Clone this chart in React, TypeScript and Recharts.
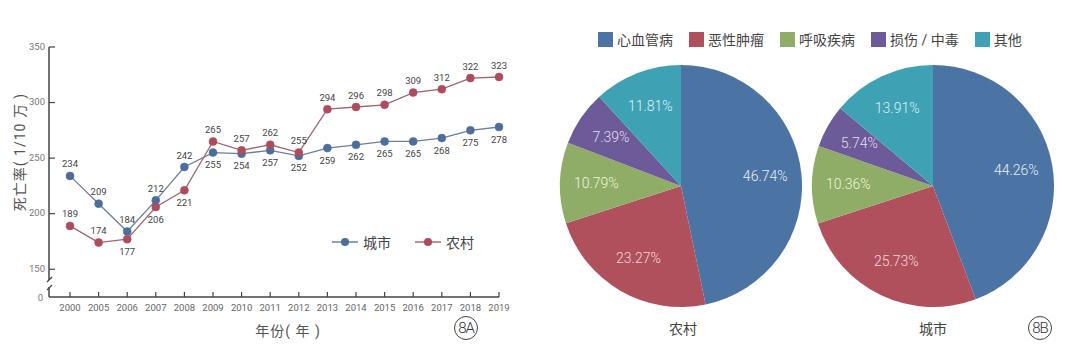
import React from 'react';
import { LineChart, Line, XAxis, YAxis, Legend, PieChart, Pie, Cell } from 'recharts';

const years = ['2000', '2005', '2006', '2007', '2008', '2009', '2010', '2011', '2012', '2013', '2014', '2015', '2016', '2017', '2018', '2019'];
const urbanRate = [234, 209, 184, 212, 242, 255, 254, 257, 252, 259, 262, 265, 265, 268, 275, 278];
const ruralRate = [189, 174, 177, 206, 221, 265, 257, 262, 255, 294, 296, 298, 309, 312, 322, 323];
const yTicks = [125, 150, 200, 250, 300, 350];

const causes = ['心血管病', '恶性肿瘤', '呼吸疾病', '损伤 / 中毒', '其他'];
const ruralShare = [46.74, 23.27, 10.79, 7.39, 11.81];
const urbanShare = [44.26, 25.73, 10.36, 5.74, 13.91];

const COLORS = ['#4b74a4', '#b1505d', '#8fad66', '#6c5a99', '#3fa2b4'];
const LABEL_COLORS = ['#e6eef9', '#f8d8dc', '#eef6dc', '#e4dcf6', '#dcf3f7'];
const BLUE = '#4d6e9d';
const RED = '#ae4b5d';

const FONT = "Roboto, 'Noto Sans CJK SC', sans-serif";

const lineData = years.map((y, i) => ({ year: y, urban: urbanRate[i], rural: ruralRate[i] }));
const ruralPie = causes.map((c, i) => ({ name: c, value: ruralShare[i] }));
const urbanPie = causes.map((c, i) => ({ name: c, value: urbanShare[i] }));

const XTick = (props: any) => {
  const { x, y, payload } = props;
  return (
    <g>
      <line x1={x} x2={x} y1={y} y2={y - 5} stroke="#444" strokeWidth={1.2} />
      <text x={x} y={y + 14} textAnchor="middle" fontSize={9.5} fill="#666" fontFamily={FONT}>
        {payload.value}
      </text>
    </g>
  );
};

const YTick = (props: any) => {
  const { x, y, payload } = props;
  if (payload.value === 125) {
    // axis break
    return (
      <g>
        <rect x={x - 3} y={y - 17} width={6} height={7} fill="#fff" />
        <line x1={x - 2} y1={y - 15} x2={x + 3} y2={y - 20} stroke="#444" strokeWidth={1.3} />
        <line x1={x - 2} y1={y - 7} x2={x + 3} y2={y - 12} stroke="#444" strokeWidth={1.3} />
        <text x={x - 6} y={y + 1} textAnchor="end" dominantBaseline="middle" fontSize={9.5} fill="#777" fontFamily={FONT}>
          0
        </text>
      </g>
    );
  }
  return (
    <g>
      <line x1={x} x2={x + 6} y1={y} y2={y} stroke="#444" strokeWidth={1.2} />
      <text x={x - 4} y={y} textAnchor="end" dominantBaseline="middle" fontSize={9.5} fill="#777" fontFamily={FONT}>
        {payload.value}
      </text>
    </g>
  );
};

const makeLabel = (series: 'urban' | 'rural') => (props: any) => {
  const { x, y, value, index } = props;
  let above: boolean;
  if (series === 'urban') above = index <= 4;
  else above = index <= 1 || index >= 5;
  return (
    <text
      x={x}
      y={above ? y - 11 : y + 13}
      textAnchor="middle"
      dominantBaseline="middle"
      fontSize={9.5}
      fill="#444"
      fontFamily={FONT}
    >
      {value}
    </text>
  );
};

const LineLegend = () => (
  <div style={{ display: 'flex', alignItems: 'center', fontFamily: FONT, fontSize: 14, color: '#444' }}>
    {[
      { name: '城市', color: BLUE },
      { name: '农村', color: RED },
    ].map((it) => (
      <div key={it.name} style={{ display: 'flex', alignItems: 'center', marginRight: 24 }}>
        <svg width={26} height={10}>
          <line x1={0} x2={26} y1={5} y2={5} stroke={it.color} strokeWidth={1.3} />
          <circle cx={13} cy={5} r={4} fill={it.color} />
        </svg>
        <span style={{ marginLeft: 5 }}>{it.name}</span>
      </div>
    ))}
  </div>
);

const RADIAN = Math.PI / 180;
const pieLabel = (props: any) => {
  const { cx, cy, midAngle, outerRadius, value, index } = props;
  const r = outerRadius * 0.7;
  const x = cx + r * Math.cos(-midAngle * RADIAN);
  const y = cy + r * Math.sin(-midAngle * RADIAN);
  return (
    <text
      x={x}
      y={y}
      textAnchor="middle"
      dominantBaseline="middle"
      fontSize={14}
      fontWeight={300}
      fill={LABEL_COLORS[index]}
      fontFamily={FONT}
    >
      {value.toFixed(2)}%
    </text>
  );
};

const Circled = ({ cx, cy, text }: { cx: number; cy: number; text: string }) => (
  <div
    style={{
      position: 'absolute',
      left: cx - 12,
      top: cy - 12,
      width: 22,
      height: 22,
      border: '1px solid #444',
      borderRadius: '50%',
      fontFamily: FONT,
      fontSize: 15,
      fontWeight: 300,
      lineHeight: '22px',
      textAlign: 'center',
      color: '#333',
      letterSpacing: -1,
    }}
  >
    {text}
  </div>
);

export default function App() {
  return (
    <div style={{ position: 'absolute', left: 0, top: 0, width: 1069, height: 356, background: '#fff', overflow: 'hidden' }}>
      <div style={{ position: 'absolute', left: 0, top: 0 }}>
        <LineChart width={540} height={356} data={lineData} margin={{ top: 27, right: 41, bottom: 29, left: 9 }}>
          <XAxis
            dataKey="year"
            padding={{ left: 21, right: 0 }}
            axisLine={{ stroke: '#444', strokeWidth: 1.5 }}
            tickLine={false}
            tickSize={0}
            tickMargin={0}
            interval={0}
            height={30}
            tick={<XTick />}
          />
          <YAxis
            domain={[125, 350]}
            ticks={yTicks}
            allowDataOverflow
            axisLine={{ stroke: '#444', strokeWidth: 1.5 }}
            tickLine={false}
            tickSize={0}
            tickMargin={0}
            width={40}
            tick={<YTick />}
          />
          <Legend
            verticalAlign="top"
            align="left"
            content={<LineLegend />}
            wrapperStyle={{ position: 'absolute', left: 332, top: 232, width: 200 }}
          />
          <Line
            name="城市"
            dataKey="urban"
            stroke="#6c7f99"
            strokeWidth={1.3}
            dot={{ r: 4, fill: BLUE, stroke: BLUE, strokeWidth: 0.5 }}
            label={makeLabel('urban')}
            isAnimationActive={false}
          />
          <Line
            name="农村"
            dataKey="rural"
            stroke="#a0656f"
            strokeWidth={1.3}
            dot={{ r: 4, fill: RED, stroke: RED, strokeWidth: 0.5 }}
            label={makeLabel('rural')}
            isAnimationActive={false}
          />
        </LineChart>
        <div
          style={{
            position: 'absolute',
            left: 19,
            top: 152,
            transform: 'translate(-50%, -50%) rotate(-90deg)',
            whiteSpace: 'nowrap',
            fontFamily: FONT,
            fontSize: 14,
            letterSpacing: 1,
            color: '#555',
          }}
        >
          死亡率( 1/10 万 )
        </div>
        <div
          style={{
            position: 'absolute',
            left: 288,
            top: 330,
            transform: 'translate(-50%, -50%)',
            whiteSpace: 'nowrap',
            fontFamily: FONT,
            fontSize: 14,
            letterSpacing: 1,
            color: '#555',
          }}
        >
          年份( 年 )
        </div>
      </div>
      <Circled cx={466} cy={328} text="8A" />

      <div style={{ position: 'absolute', left: 540, top: 0 }}>
        <PieChart width={529} height={356} margin={{ top: 0, right: 0, bottom: 0, left: 0 }}>
          <Pie
            data={ruralPie}
            dataKey="value"
            cx={141}
            cy={186}
            outerRadius={121}
            startAngle={90}
            endAngle={-270}
            stroke="none"
            label={pieLabel}
            labelLine={false}
            isAnimationActive={false}
          >
            {ruralPie.map((d, i) => (
              <Cell key={d.name} fill={COLORS[i]} />
            ))}
          </Pie>
          <Pie
            data={urbanPie}
            dataKey="value"
            cx={393}
            cy={186}
            outerRadius={121}
            startAngle={90}
            endAngle={-270}
            stroke="none"
            label={pieLabel}
            labelLine={false}
            isAnimationActive={false}
          >
            {urbanPie.map((d, i) => (
              <Cell key={d.name} fill={COLORS[i]} />
            ))}
          </Pie>
        </PieChart>
        <div
          style={{
            position: 'absolute',
            left: 58,
            top: 29,
            display: 'flex',
            alignItems: 'center',
            fontFamily: FONT,
            fontSize: 14,
            color: '#444',
            whiteSpace: 'nowrap',
          }}
        >
          {causes.map((c, i) => (
            <div key={c} style={{ display: 'flex', alignItems: 'center', marginRight: 16 }}>
              <div style={{ width: 15, height: 15, background: COLORS[i], marginRight: 4 }} />
              <span>{c}</span>
            </div>
          ))}
        </div>
        <div style={{ position: 'absolute', left: 143, top: 328, transform: 'translate(-50%, -50%)', fontFamily: FONT, fontSize: 14, color: '#444' }}>
          农村
        </div>
        <div style={{ position: 'absolute', left: 393, top: 328, transform: 'translate(-50%, -50%)', fontFamily: FONT, fontSize: 14, color: '#444' }}>
          城市
        </div>
      </div>
      <Circled cx={1040} cy={328} text="8B" />
    </div>
  );
}
